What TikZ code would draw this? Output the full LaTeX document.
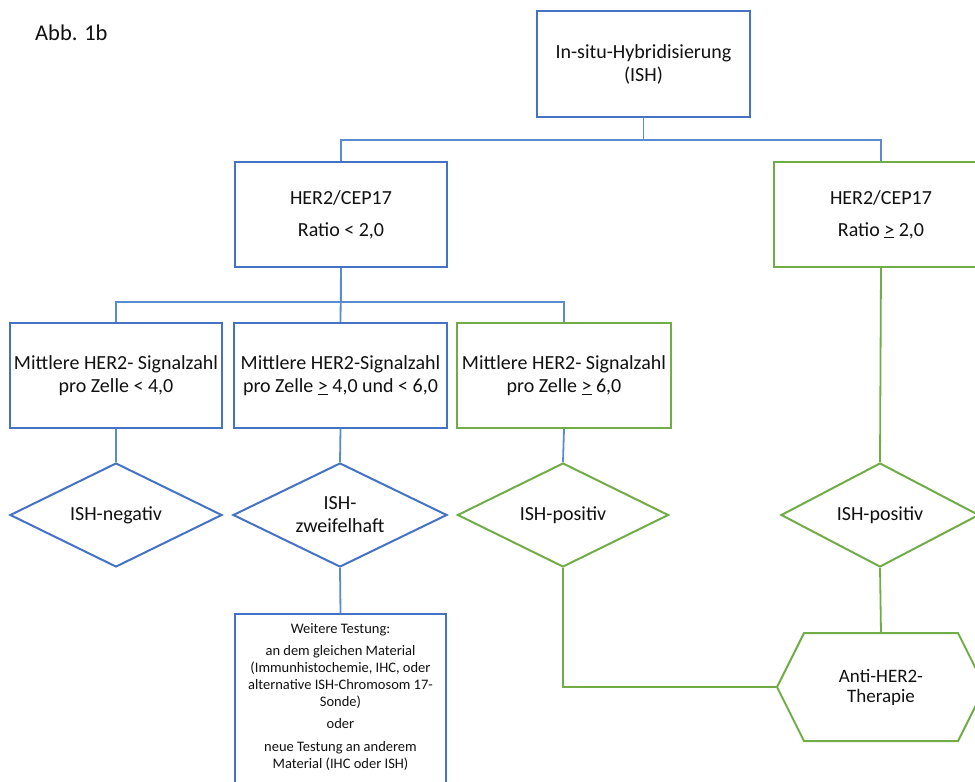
\documentclass[tikz,border=0pt]{standalone}
\usepackage{fontspec}
\setmainfont{Carlito}
\usetikzlibrary{shapes.geometric}
\definecolor{bbox}{HTML}{4472C4}
\definecolor{gbox}{HTML}{70AD47}
\definecolor{bline}{HTML}{5A8ACF}
\definecolor{txt}{HTML}{111111}
\begin{document}
\begin{tikzpicture}[x=1pt,y=-1pt,
  base/.style={inner sep=0pt, align=center, text=txt, font=\fontsize{20}{23}\selectfont, line width=2pt},
  bbx/.style={base, draw=bbox, rectangle, minimum width=212pt, minimum height=105pt},
  gbx/.style={base, draw=gbox, rectangle, minimum width=212pt, minimum height=105pt},
  bdia/.style={base, draw=bbox, diamond, aspect=2, minimum height=104pt},
  gdia/.style={base, draw=gbox, diamond, aspect=2, minimum height=104pt},
  bconn/.style={draw=bline, line width=1.8pt},
  gconn/.style={draw=gbox, line width=1.8pt},
  small/.style={inner sep=0pt, align=center, text=txt, font=\fontsize{14.5}{17}\selectfont}
]
\useasboundingbox (0,0) rectangle (975,782);
\clip (0,0) rectangle (975,782);

\node[anchor=base west, inner sep=0pt, text=txt, font=\fontsize{22.5}{25}\selectfont] (title) at (35,40) {Abb. 1b};

\node[bbx, minimum width=213pt, minimum height=106pt] (ish) at (643.5,64) {In-situ-Hybridisierung\\(ISH)};
\node[bbx] (her2L) at (341,214.5) {HER2/CEP17\\[9pt]Ratio < 2,0};
\node[gbx, minimum width=214pt] (her2R) at (881,214.5) {HER2/CEP17\\[9pt]Ratio \underline{>} 2,0};

\node[bbx] (m1) at (116,375.5) {Mittlere HER2- Signalzahl\\pro Zelle < 4,0};
\node[bbx, minimum width=213pt] (m2) at (340.5,375.5) {Mittlere HER2-Signalzahl\\pro Zelle \underline{>} 4,0 und < 6,0};
\node[gbx, minimum width=214pt] (m3) at (564,375.5) {Mittlere HER2- Signalzahl\\pro Zelle \underline{>} 6,0};

\node[bdia, minimum width=212pt] (d1) at (116,515) {ISH-negativ};
\node[bdia, minimum width=214pt] (d2) at (340,515) {ISH-\\zweifelhaft};
\node[gdia, minimum width=211pt] (d3) at (563,515) {ISH-positiv};
\node[gdia, minimum width=198pt] (d4) at (880,515) {ISH-positiv};

\node[base, draw=bbox, rectangle, anchor=north, minimum width=211pt, minimum height=200pt] (test) at (340.5,613) {};
\node[small, anchor=north] (testtxt) at (340.5,623) {Weitere Testung:\\[5pt]an dem gleichen Material\\(Immunhistochemie, IHC, oder\\alternative ISH-Chromosom 17-\\Sonde)\\[5pt]oder\\[6pt]neue Testung an anderem\\Material (IHC oder ISH)};

\node[base, rectangle, minimum width=152pt, minimum height=106pt, font=\fontsize{19}{20}\selectfont] (hex) at (881,687) {Anti-HER2-\\Therapie};
\draw[gbox, line width=2pt, line join=miter] (hex.north west) -- (hex.north east) -- ([xshift=27pt]hex.east) -- (hex.south east) -- (hex.south west) -- ([xshift=-27pt]hex.west) -- cycle;
\coordinate (hexL) at ([xshift=-27pt]hex.west);

% connectors
\draw[bconn] (ish.south) -- ++(0,22) coordinate (j1);
\draw[bconn] (her2L.north) |- (j1) -| (her2R.north);
\draw[bconn] (her2L.south) -- (m2.north);
\draw[bconn] (her2L.south) -- ++(0,34) coordinate (j2);
\draw[bconn] (m1.north) |- (j2) -| (m3.north);
\draw[bconn] (m1.south) -- (d1.north);
\draw[bconn] (m2.south) -- (d2.north);
\draw[bconn] (m3.south) -- (d3.north);
\draw[bconn] (d2.south) -- (test.north);
\draw[gconn] (her2R.south) -- (d4.north);
\draw[gconn] (d4.south) -- (hex.north);
\draw[gconn] (d3.south) |- (hexL);
\end{tikzpicture}
\end{document}
